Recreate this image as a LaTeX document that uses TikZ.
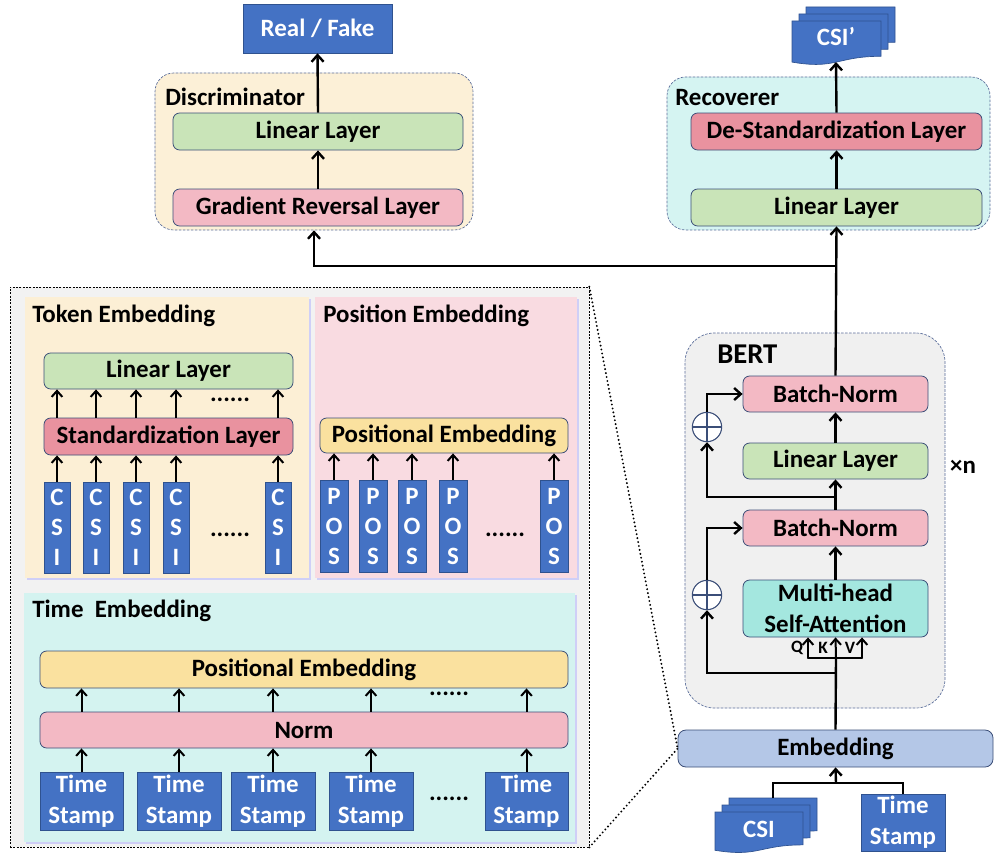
\documentclass[tikz,border=0pt]{standalone}
\usepackage{fontspec}
\setmainfont{Carlito}
\usetikzlibrary{arrows.meta,shadows,calc}

\definecolor{blu}{HTML}{4472C4}
\definecolor{blubd}{HTML}{2F528F}
\definecolor{laybd}{HTML}{3B4E78}
\definecolor{grn}{HTML}{C9E4B8}
\definecolor{pnk}{HTML}{F3B9C4}
\definecolor{pnkd}{HTML}{E9929F}
\definecolor{ylw}{HTML}{FAE19F}
\definecolor{cyn}{HTML}{A4E7DF}
\definecolor{embc}{HTML}{B4C7E7}
\definecolor{cream}{HTML}{FCF0D7}
\definecolor{aqua}{HTML}{D5F4F2}
\definecolor{bertbg}{HTML}{F0F0F0}
\definecolor{tokbg}{HTML}{FCEFD5}
\definecolor{posbg}{HTML}{F9DBE1}
\definecolor{timbg}{HTML}{D4F3F0}
\definecolor{bigbg}{HTML}{F2F2F2}
\definecolor{panbd}{HTML}{5A6D9A}

% box given by its corners (x1,y1)-(x2,y2) in pixel units
\newcommand\boxat[7]{\node[#6, minimum width={((#4)-(#2))*0.75pt}, minimum height={((#5)-(#3))*0.75pt}] (#1) at ({((#2)+(#4))/2},{((#3)+(#5))/2}) {#7};}
% one sheet of a document stack, top-left corner (#1,#2), width #3, height #4
\newcommand\docsheet[4]{\filldraw[docst] (#1,#2) -- ({#1+#3},#2) -- ({#1+#3},{#2+0.802*#4}) .. controls ({#1+0.5*#3},{#2+0.802*#4}) and ({#1+0.5*#3},{#2+1.107*#4}) .. (#1,{#2+0.934*#4}) -- cycle;}

\tikzset{
  mainfont/.style={font=\fontsize{18.7}{23}\selectfont\bfseries},
  lay/.style={draw=laybd, line width=0.6pt, rounded corners=5pt, inner sep=0pt, mainfont},
  blk/.style={draw=blubd, fill=blu, line width=0.5pt, inner sep=0pt, text=white, mainfont, align=center},
  bars/.style={blk, font=\fontsize{18.7}{22.5}\selectfont\bfseries},
  docst/.style={draw=blubd, fill=blu, line width=0.5pt},
  panel/.style={draw=panbd, dashed, dash pattern=on 2pt off 1pt, line width=0.5pt, rounded corners=14pt, inner sep=0pt},
  subpanel/.style={inner sep=0pt, drop shadow={shadow xshift=1.2pt, shadow yshift=-1.2pt, fill=blue!35!white, opacity=0.45}},
  bigbox/.style={draw=black, fill=bigbg, dash pattern=on 1.5pt off 1pt, line width=0.5pt, inner sep=0pt},
  ttl/.style={anchor=west, inner sep=0pt, mainfont},
  arr/.style={line width=1.8pt, -{Straight Barb[length=5pt,width=9pt]}},
  sarr/.style={line width=1.5pt, -{Straight Barb[length=4.5pt,width=8pt]}},
  ln/.style={line width=1.8pt},
  dotline/.style={line width=1.6pt, dash pattern=on 0pt off 3pt, line cap=round},
  dots/.style={inner sep=0pt, mainfont},
  oplus/.style={circle, draw=laybd, fill=white, line width=0.8pt, minimum size=22pt, inner sep=0pt,
    path picture={\draw[laybd, line width=0.8pt] (path picture bounding box.north) -- (path picture bounding box.south) (path picture bounding box.west) -- (path picture bounding box.east);}},
}

\begin{document}
\begin{tikzpicture}[x=0.75pt,y=-0.75pt]
\useasboundingbox (0,0) rectangle (995,856);

% ---------------- Discriminator ----------------
\boxat{disc}{155}{73}{473}{230}{panel, fill=cream}{}
\node[ttl] at (165,97) {Discriminator};
\boxat{rf}{243}{4}{392}{53}{blk}{Real / Fake}
\boxat{dlin}{173}{113}{463}{150}{lay, fill=grn}{Linear Layer}
\boxat{grl}{173}{189}{463}{226}{lay, fill=pnk}{Gradient Reversal Layer}
\draw[arr] (grl.north) -- (dlin.south);
\draw[arr] (dlin.north) -- (rf.south);

% ---------------- Recoverer ----------------
\boxat{rec}{667}{77}{990}{230}{panel, fill=aqua}{}
\node[ttl] at (675,98) {Recoverer};
\boxat{dstd}{691}{113}{982}{150}{lay, fill=pnkd}{De-Standardization Layer}
\boxat{rlin}{691}{189}{982}{226}{lay, fill=grn}{Linear Layer}
\docsheet{806}{7}{89}{44}
\docsheet{799}{14}{89}{44}
\docsheet{792}{21}{89}{44}
\node[text=white, mainfont, inner sep=0pt] (csip) at (836,37) {CSI’};
\coordinate (csipb) at (836,62);
\draw[arr] (rlin.north) -- (dstd.south);
\draw[arr] (dstd.north) -- (csipb);

% ---------------- BERT ----------------
\boxat{bert}{685}{333}{945}{708}{panel, fill=bertbg, rounded corners=22pt}{}
\node[ttl, font=\fontsize{21.5}{25}\selectfont\bfseries] at (717,354) {BERT};
\boxat{bn1}{743}{376}{928}{412}{lay, fill=pnk}{Batch-Norm}
\boxat{ll}{743}{443}{928}{479}{lay, fill=grn}{Linear Layer}
\boxat{bn2}{743}{510}{928}{546}{lay, fill=pnk}{Batch-Norm}
\boxat{mhsa}{743}{580}{928}{637}{lay, fill=cyn, align=center, font=\fontsize{18.7}{23.5}\selectfont\bfseries}{Multi-head\\Self-Attention}
\node[oplus] (c1) at (707,427) {};
\node[oplus] (c2) at (707,595) {};
\node[mainfont, inner sep=0pt] (xn) at (963,467) {×n};

\coordinate (r1) at (836,497);
\coordinate (r2) at (836,673);
\coordinate (qkv) at (836,658);
\coordinate (qq) at (808,658);
\coordinate (vv) at (862,658);

\draw[arr] (mhsa.north) -- (bn2.south);
\draw[arr] (bn2.north) -- (ll.south);
\draw[arr] (ll.north) -- (bn1.south);
\draw[arr] (r1) -| (c1.south);
\draw[arr] (c1.north) |- (bn1.west);
\draw[arr] (r2) -| (c2.south);
\draw[arr] (c2.north) |- (bn2.west);
\draw[ln, line cap=round] (qq) -- (vv);
\draw[sarr] (qq) -- (qq |- mhsa.south);
\draw[sarr] (qkv) -- (mhsa.south);
\draw[sarr] (vv) -- (vv |- mhsa.south);
\node[inner sep=0pt, font=\fontsize{13}{14}\selectfont\bfseries] at (797,648) {Q};
\node[inner sep=0pt, font=\fontsize{13}{14}\selectfont\bfseries] at (823,648) {K};
\node[inner sep=0pt, font=\fontsize{13}{14}\selectfont\bfseries] at (850,648) {V};

% links between blocks
\coordinate (jn) at (836,266);
\draw[arr] (bn1.north) -- (rlin.south);
\draw[arr] (jn) -| (disc.south);

% ---------------- Embedding and inputs ----------------
\boxat{emb}{678}{730}{993}{767}{lay, fill=embc, rounded corners=6pt}{Embedding}
\draw[ln] (emb.north) -- (qkv);
\docsheet{729}{798}{88}{41}
\docsheet{722}{805}{88}{41}
\docsheet{715}{812}{88}{41}
\node[text=white, mainfont, inner sep=0pt] (csi) at (759,829) {CSI};
\boxat{ts}{861}{794}{945}{851}{blk}{Time\\Stamp}
\coordinate (csitop) at (773,798);
\coordinate (mid) at (836,783);
\draw[ln] (csitop) |- (ts.north |- mid) -- (ts.north);
\draw[arr] (mid) -- (emb.south);

% ---------------- Embedding detail ----------------
\boxat{big}{10}{287}{589}{847}{bigbox}{}
\draw[dotline] (big.north east) -- (emb.west);
\draw[dotline] (big.south east) -- (emb.west);

% token embedding
\boxat{tok}{25}{297}{309}{578}{subpanel, fill=tokbg}{}
\node[ttl] at (32,316) {Token Embedding};
\boxat{tlin}{44}{353}{293}{389}{lay, fill=grn}{Linear Layer}
\boxat{std}{44}{418}{293}{455}{lay, fill=pnkd}{Standardization Layer}
\foreach \n/\cx in {1/57, 2/96, 3/136, 4/176, 5/278}{
  \boxat{c\n}{\cx-13}{482}{\cx+13}{573}{bars}{C\\S\\I}
  \draw[sarr] (c\n.north) -- (c\n.north |- std.south);
  \draw[sarr] (c\n.north |- std.north) -- (c\n.north |- tlin.south);
}
\node[dots] at (230,400) {......};
\node[dots] at (230,535) {......};

% position embedding
\boxat{pos}{315}{297}{577}{578}{subpanel, fill=posbg}{}
\node[ttl] at (323,316) {Position Embedding};
\boxat{pemb}{320}{418}{568}{453}{lay, fill=ylw}{Positional Embedding}
\foreach \n/\cx in {1/334, 2/373, 3/412, 4/453, 5/554}{
  \boxat{p\n}{\cx-14}{480}{\cx+14}{572}{bars}{P\\O\\S}
  \draw[sarr] (p\n.north) -- (p\n.north |- pemb.south);
}
\node[dots] at (505,535) {......};

% time embedding
\boxat{tim}{24}{593}{575}{842}{subpanel, fill=timbg}{}
\node[ttl] at (32,611) {Time\ \ Embedding};
\boxat{tpe}{40}{651}{568}{688}{lay, fill=ylw}{Positional Embedding}
\boxat{norm}{40}{712}{568}{748}{lay, fill=pnk}{Norm}
\foreach \n/\xa/\xb in {1/40/123, 2/137/221, 3/231/315, 4/329/413, 5/485/568}{
  \boxat{t\n}{\xa}{772}{\xb}{830}{blk}{Time\\Stamp}
  \draw[sarr] (t\n.north) -- (t\n.north |- norm.south);
  \draw[sarr] (t\n.north |- norm.north) -- (t\n.north |- tpe.south);
}
\node[dots] at (449,694) {......};
\node[dots] at (449,799) {......};
\end{tikzpicture}
\end{document}
